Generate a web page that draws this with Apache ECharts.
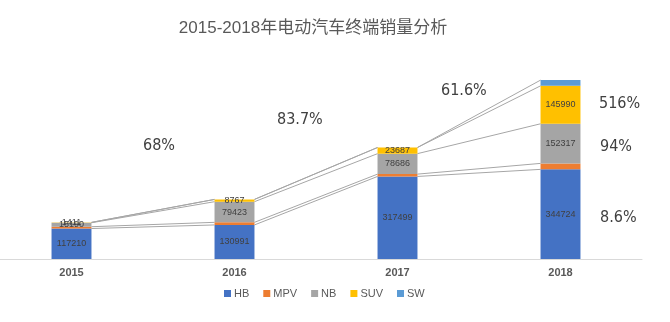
<!DOCTYPE html>
<html><head><meta charset="utf-8">
<script src="https://cdn.jsdelivr.net/npm/echarts@6/dist/echarts.min.js"></script>
<style>html,body{margin:0;padding:0;background:#fff;overflow:hidden}#c{position:absolute;left:-10px;top:0;width:680px;height:322px}</style>
</head><body><div id="c"></div>
<script>
var years = ['2015', '2016', '2017', '2018'];
var seriesNames = ['HB', 'MPV', 'NB', 'SUV', 'SW'];
var HB = [117210, 130991, 317499, 344724];
var MPV = [7000, 10000, 9000, 23000];
var NB = [15190, 79423, 78686, 152317];
var SUV = [1411, 8767, 23687, 145990];
var SW = [0, 0, 0, 22000];
var growthTexts = ['68%', '83.7%', '61.6%', '516%', '94%', '8.6%'];

var colors = ['#4472C4', '#ED7D31', '#A5A5A5', '#FFC000', '#5B9BD5'];
var allData = [HB, MPV, NB, SUV, SW];
var labelled = [true, false, true, true, false];
var barRatio = 0.245;
var dx = 10;

var chart = echarts.init(document.getElementById('c'));
var series = seriesNames.map(function (n, k) {
  return {
    name: n, type: 'bar', stack: 'total', barWidth: '24.5%',
    itemStyle: { color: colors[k] },
    data: allData[k],
    z: 3,
    label: {
      show: labelled[k], position: 'inside', fontSize: 9, color: '#404040',
      fontFamily: 'Liberation Sans, Arial, sans-serif'
    }
  };
});
series.push({
  type: 'custom', name: 'lines', silent: true, z: 1,
  data: [[0, 0], [1, 0], [2, 0]],
  encode: { x: 0, y: 1 },
  renderItem: function (params, api) {
    var i = api.value(0);
    var bw = api.size([1, 0])[0] * barRatio;
    var children = [];
    var cumA = 0, cumB = 0;
    for (var k = 0; k < allData.length; k++) {
      cumA += allData[k][i];
      cumB += allData[k][i + 1];
      var a = api.coord([i, cumA]);
      var b = api.coord([i + 1, cumB]);
      children.push({
        type: 'line',
        shape: { x1: a[0] + bw / 2, y1: a[1], x2: b[0] - bw / 2, y2: b[1] },
        style: { stroke: '#A6A6A6', lineWidth: 1 }
      });
    }
    return { type: 'group', children: children };
  }
});

var txtStyle = function (t, x, y) {
  return { type: 'text', left: x + dx, top: y, style: { text: t, fontSize: 16, fill: '#404040', fontFamily: 'Liberation Sans Narrow, DejaVu Sans Condensed, sans-serif' } };
};

chart.setOption({
  animation: false,
  title: {
    text: '2015-2018年电动汽车终端销量分析', left: 308 + dx, top: 15, textAlign: 'center',
    textStyle: { fontSize: 17, fontWeight: 'normal', color: '#595959', fontFamily: 'Liberation Sans, Noto Sans CJK SC, sans-serif' }
  },
  legend: {
    data: seriesNames, left: 219 + dx, top: 283, icon: 'rect', itemWidth: 7, itemHeight: 7, itemGap: 14,
    textStyle: { fontSize: 11, color: '#595959', padding: [0, 0, 0, -2] }
  },
  grid: { left: 0, right: 28, top: 77, bottom: 63, containLabel: false },
  xAxis: {
    type: 'category', data: years,
    axisLine: { lineStyle: { color: '#D9D9D9' } },
    axisTick: { show: false },
    axisLabel: { fontSize: 11, color: '#595959', margin: 8, fontWeight: 'bold' }
  },
  yAxis: { type: 'value', min: 0, max: 700000, show: false, splitLine: { show: false } },
  series: series,
  graphic: [
    txtStyle(growthTexts[0], 143, 138),
    txtStyle(growthTexts[1], 277, 112),
    txtStyle(growthTexts[2], 441, 83),
    txtStyle(growthTexts[3], 599, 96),
    txtStyle(growthTexts[4], 600, 139),
    txtStyle(growthTexts[5], 600, 210)
  ]
});
</script></body></html>
